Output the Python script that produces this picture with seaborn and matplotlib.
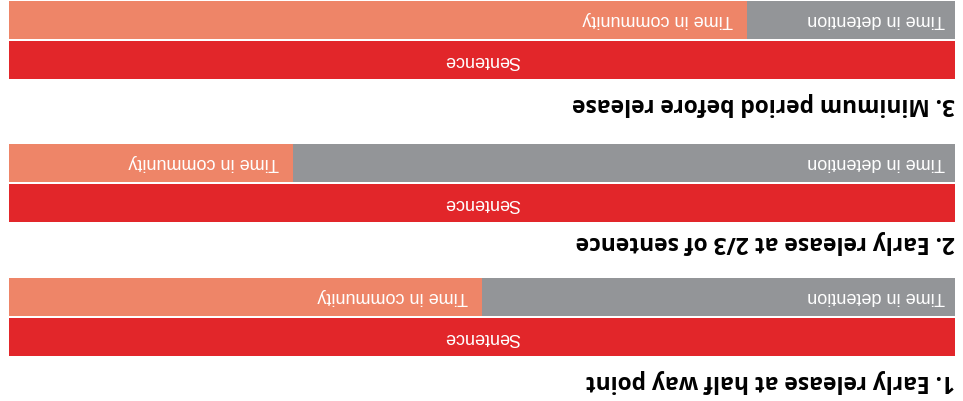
import seaborn as sns
import matplotlib.pyplot as plt
import pandas as pd

# data (share of the sentence spent in detention)
titles = ['1. Early release at half way point',
          '2. Early release at 2/3 of sentence',
          '3. Minimum period before release']
detention = [0.50, 0.70, 0.22]
rows = ['Sentence', 'Split']
sentence_label = 'Sentence'
detention_label = 'Time in detention'
community_label = 'Time in community'

red = '#e2262a'
salmon = '#ee8568'
grey = '#939598'

W, H = 963, 401
fig = plt.figure(figsize=(W / 100, H / 100), dpi=100)

# the whole graphic is upside down: x runs right-to-left, text turned 180
left_px, right_px = 9, 955
pitch = 40.3
sent_center = [337.2, 203.2, 60.0]  # image y of each "Sentence" bar
title_off = [1.09, 0.96, 1.09]

small = ['Liberation Sans Narrow', 'Liberation Sans', 'DejaVu Sans']
bold = ['Open Sans', 'DejaVu Sans']

for i in range(3):
    c = sent_center[i]
    bottom = c + pitch / 2
    top = c - 1.5 * pitch
    ax = fig.add_axes([left_px / W, (H - bottom) / H,
                       (right_px - left_px) / W, (bottom - top) / H])

    df = pd.DataFrame({'row': rows, 'value': [1.0, 1.0]})
    sns.barplot(data=df, x='value', y='row', hue='row', palette=[red, salmon],
                order=rows, width=0.94, saturation=1, errorbar=None,
                linewidth=0, legend=False, ax=ax)
    sns.barplot(x=[detention[i]], y=['Split'], order=rows, color=grey,
                width=0.94, saturation=1, errorbar=None, linewidth=0, ax=ax)

    ax.set_xlim(1, 0)
    ax.set_ylim(-0.5, 1.5)
    ax.axis('off')

    ax.text(0.5, 0, sentence_label, rotation=180, ha='center', va='center',
            color='white', fontsize=13, family=small)
    ax.text(0.011, 1, detention_label, rotation=180, ha='right', va='center',
            color='white', fontsize=13, family=small)
    ax.text(detention[i] + 0.015, 1, community_label, rotation=180, ha='right',
            va='center', color='white', fontsize=13, family=small)
    ax.text(0, -title_off[i], titles[i], rotation=180, ha='right', va='center',
            color='black', fontsize=16.4, fontweight='bold', family=bold)

plt.savefig('out.png', dpi=100)
